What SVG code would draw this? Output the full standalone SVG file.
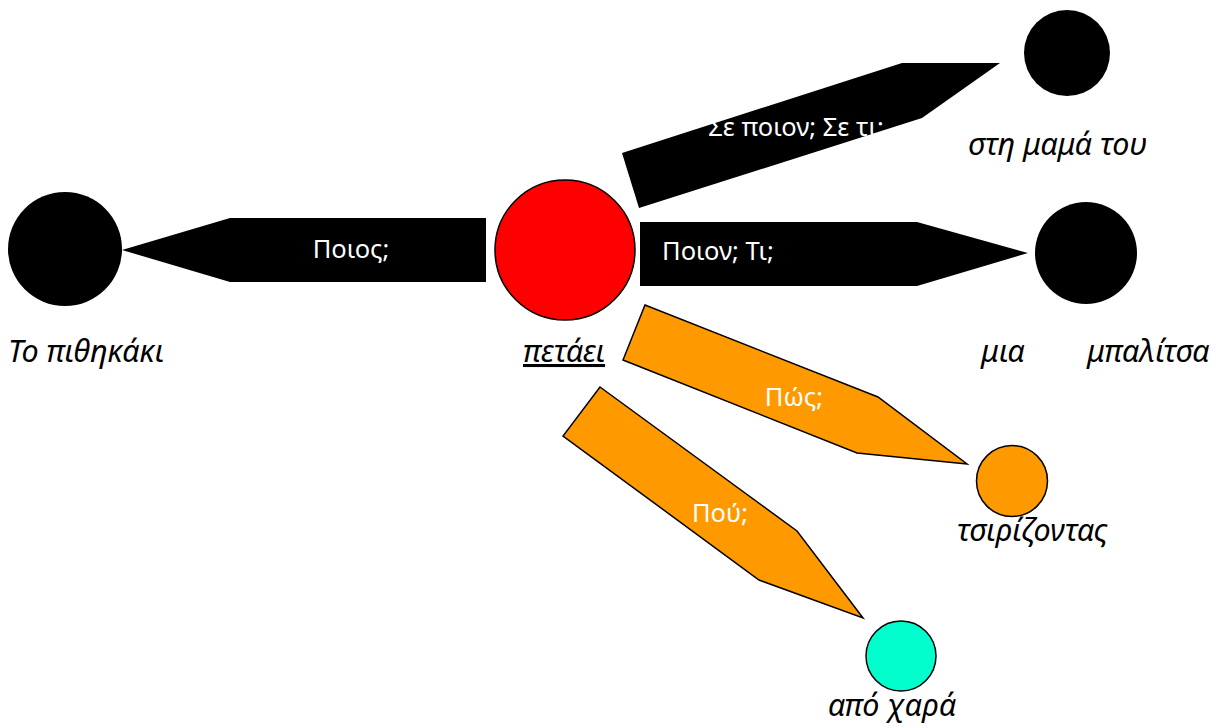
<svg xmlns="http://www.w3.org/2000/svg" width="1217" height="727" viewBox="0 0 1217 727">
<style>
.lbl{font-family:"Noto Sans","Open Sans","Liberation Sans",sans-serif;font-size:25.5px;fill:#ffffff}
.cap{font-family:"Noto Sans","Open Sans","Liberation Sans",sans-serif;font-size:30.5px;font-style:italic;fill:#000000}
.blk{fill:#000000;stroke:none}
.org{fill:#FF9900;stroke:#000000;stroke-width:1.5;stroke-linejoin:miter}
</style>
<rect width="1217" height="727" fill="#ffffff"/>
<g id="connectors">
  <g id="edge-poios">
    <polygon class="blk" points="486,218 230,218 122,250 230,282 486,282"/>
    <text class="lbl" x="351" y="258" text-anchor="middle">Ποιος;</text>
  </g>
  <g id="edge-poion-ti">
    <polygon class="blk" points="640,222 917,222 1028,253 917,286 640,286"/>
    <text class="lbl" x="662" y="260">Ποιον; Τι;</text>
  </g>
  <g id="edge-se-poion">
    <polygon class="blk" points="622,153 902,63 1000,63 922,118 639,208"/>
    <text class="lbl" x="796" y="136" text-anchor="middle">Σε ποιον; Σε τι;</text>
  </g>
  <g id="edge-pos">
    <polygon class="org" points="645,305 878,397 967,464 857,453 623,360"/>
    <text class="lbl" x="794" y="406" text-anchor="middle">Πώς;</text>
  </g>
  <g id="edge-pou">
    <polygon class="org" points="600,387 797,531 863,618 759,580 563,436"/>
    <text class="lbl" x="720" y="522" text-anchor="middle">Πού;</text>
  </g>
</g>
<g id="node-pithikaki">
  <circle cx="65" cy="249" r="57" fill="#000000"/>
  <text class="cap" x="8" y="362">Το πιθηκάκι</text>
</g>
<g id="node-petaei">
  <circle cx="565" cy="250" r="70" fill="#FF0000" stroke="#000000" stroke-width="1.5"/>
  <text class="cap" x="523" y="362" text-decoration="underline">πετάει</text>
</g>
<g id="node-mama">
  <circle cx="1067" cy="53" r="43" fill="#000000"/>
  <text class="cap" x="968" y="155">στη μαμά του</text>
</g>
<g id="node-mpalitsa">
  <circle cx="1086" cy="253" r="51" fill="#000000"/>
  <text class="cap" x="981" y="362">μια</text>
  <text class="cap" x="1087" y="362">μπαλίτσα</text>
</g>
<g id="node-tsirizontas">
  <circle cx="1012" cy="481" r="35.5" fill="#FF9900" stroke="#000000" stroke-width="1.5"/>
  <text class="cap" x="957" y="541">τσιρίζοντας</text>
</g>
<g id="node-hara">
  <circle cx="901" cy="656" r="35" fill="#00FFCC" stroke="#000000" stroke-width="1.5"/>
  <text class="cap" x="828" y="716">από χαρά</text>
</g>
</svg>
